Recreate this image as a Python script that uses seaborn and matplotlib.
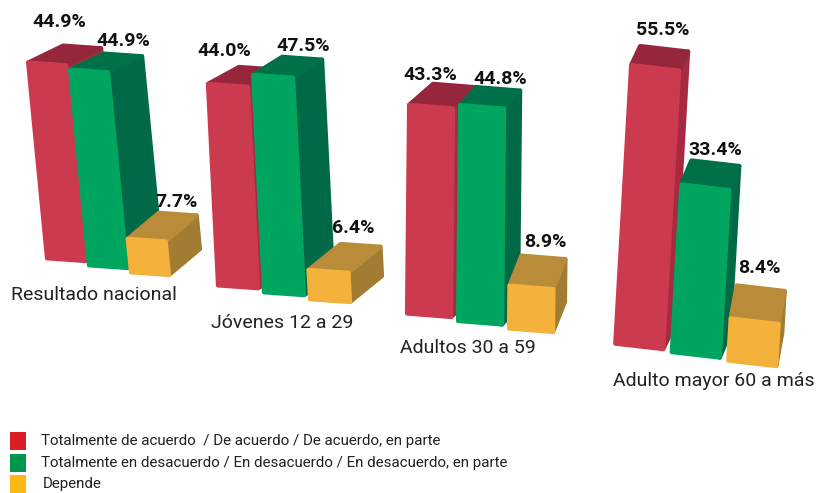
import numpy as np
import pandas as pd
import matplotlib
matplotlib.use('Agg')
import matplotlib.pyplot as plt
from matplotlib.patches import Polygon, Rectangle
from matplotlib.transforms import Affine2D, IdentityTransform
import seaborn as sns

sns.set_theme(style="white")
plt.rcParams['font.family'] = ['Roboto', 'DejaVu Sans']

# values
answers = ['Totalmente de acuerdo  / De acuerdo / De acuerdo, en parte',
           'Totalmente en desacuerdo / En desacuerdo / En desacuerdo, en parte',
           'Depende']
groups = ['Resultado nacional', 'Jóvenes 12 a 29', 'Adultos 30 a 59', 'Adulto mayor 60 a más']
nacional = [44.9, 44.9, 7.7]
jovenes = [44.0, 47.5, 6.4]
adultos = [43.3, 44.8, 8.9]
mayores = [55.5, 33.4, 8.4]
all_values = [nacional, jovenes, adultos, mayores]

front = ['#cc3a50', '#00a560', '#f4b23c']
top = ['#96263c', '#007048', '#b88c38']
side = ['#a82a40', '#006a48', '#a27c32']
legend_colors = ['#d91f26', '#00964b', '#fdb913']

W, H = 817, 493

# placing of each little 3D group, in image pixels
# left, baseline y, bar spacing, bar width, px per unit, shear, tilt between bars, tilt inside a bar
geometry = [
    (45, 258, 42, 38, 4.36, -0.0965, 0.167, 0.07),
    (215, 285, 46, 40, 4.58, -0.05, 0.15, 0.07),
    (403.5, 313, 51, 44, 4.82, 0.01, 0.147, 0.08),
    (611, 343, 56.5, 48, 5.02, 0.057, 0.15, 0.115),
]
depths = [
    [(35, 17), (34, 16), (31, 26)],
    [(31, 17), (29, 18), (32, 26)],
    [(24, 21), (16, 18), (12, 30)],
    [(9, 19), (10, 24), (6, 33)],
]
label_offsets = [
    [(-23, -25), (0, -14), (-1, -12)],
    [(-35, -17), (1, -12), (-7, -17)],
    [(-25, -11), (2, -10), (2, -15)],
    [(-1, -19), (0, -13), (-1, -20)],
]
group_label_pos = [(11, 295), (211, 323), (400, 348), (613, 381)]

fig = plt.figure(figsize=(W / 100, H / 100), dpi=100)

for g, values in enumerate(all_values):
    left, base, step, bar_w, k, shear, tilt, tilt_in = geometry[g]
    ymax = 60
    ax = fig.add_axes([left / W, 1 - base / H, 3 * step / W, ymax * k / H])
    df = pd.DataFrame({'answer': answers, 'pct': values})
    sns.barplot(data=df, x='answer', y='pct', hue='answer', palette=front, saturation=1,
                width=bar_w / step, legend=False, ax=ax)
    ax.set_xlim(-0.5, 2.5)
    ax.set_ylim(0, ymax)
    ax.axis('off')

    ox, oy = left, H - base

    for i, bar in enumerate(ax.patches):
        x0, w, h = bar.get_x(), bar.get_width(), bar.get_height()
        # every bar gets its own warp: sheared sideways, sloped a bit, stepped down the row
        bx = ax.transData.transform((x0, 0))[0]
        warp = (Affine2D().translate(-bx, -oy)
                + Affine2D.from_values(1, -tilt_in, shear, 1, 0, 0)
                + Affine2D().translate(bx, oy - tilt * (bx - ox)))
        tr = ax.transData + warp
        bl, br, tr_c, tl = tr.transform([(x0, 0), (x0 + w, 0), (x0 + w, h), (x0, h)])
        dx, dy = depths[g][i]
        d = np.array([dx, dy])
        z = 2 + i * 3
        style = dict(transform=IdentityTransform(), clip_on=False, lw=3, joinstyle='round')
        ax.add_patch(Polygon([br, tr_c, tr_c + d, br + d], fc=side[i], ec=side[i], zorder=z, **style))
        ax.add_patch(Polygon([tl, tr_c, tr_c + d, tl + d], fc=top[i], ec=top[i], zorder=z + 1, **style))
        bar.set_transform(tr)
        bar.set_clip_on(False)
        bar.set_edgecolor(front[i])
        bar.set_linewidth(3)
        bar.set_joinstyle('round')
        bar.set_zorder(z + 2)
        # value on top of the back edge
        cx, cy = (tl + tr_c) / 2 + d
        ox_l, oy_l = label_offsets[g][i]
        ax.text(cx + ox_l, cy - oy_l, f'{values[i]:.1f}%', transform=IdentityTransform(),
                ha='center', va='center', fontsize=14, fontweight='bold', color='#111111',
                clip_on=False, zorder=30)

    tx, ty = group_label_pos[g]
    fig.text(tx / W, 1 - ty / H, groups[g], ha='left', va='center', fontsize=14, color='#222222')

# legend
legend_y = [441, 463, 484]
legend_x = [41, 41, 43]
for c, y, x, name in zip(legend_colors, legend_y, legend_x, answers):
    fig.add_artist(Rectangle((10 / W, 1 - (y + 9) / H), 16 / W, 18 / H, transform=fig.transFigure,
                             fc=c, ec='none'))
    fig.text(x / W, 1 - y / H, name, ha='left', va='center', fontsize=10.9, color='#222222')

fig.savefig('out.png', dpi=100)
